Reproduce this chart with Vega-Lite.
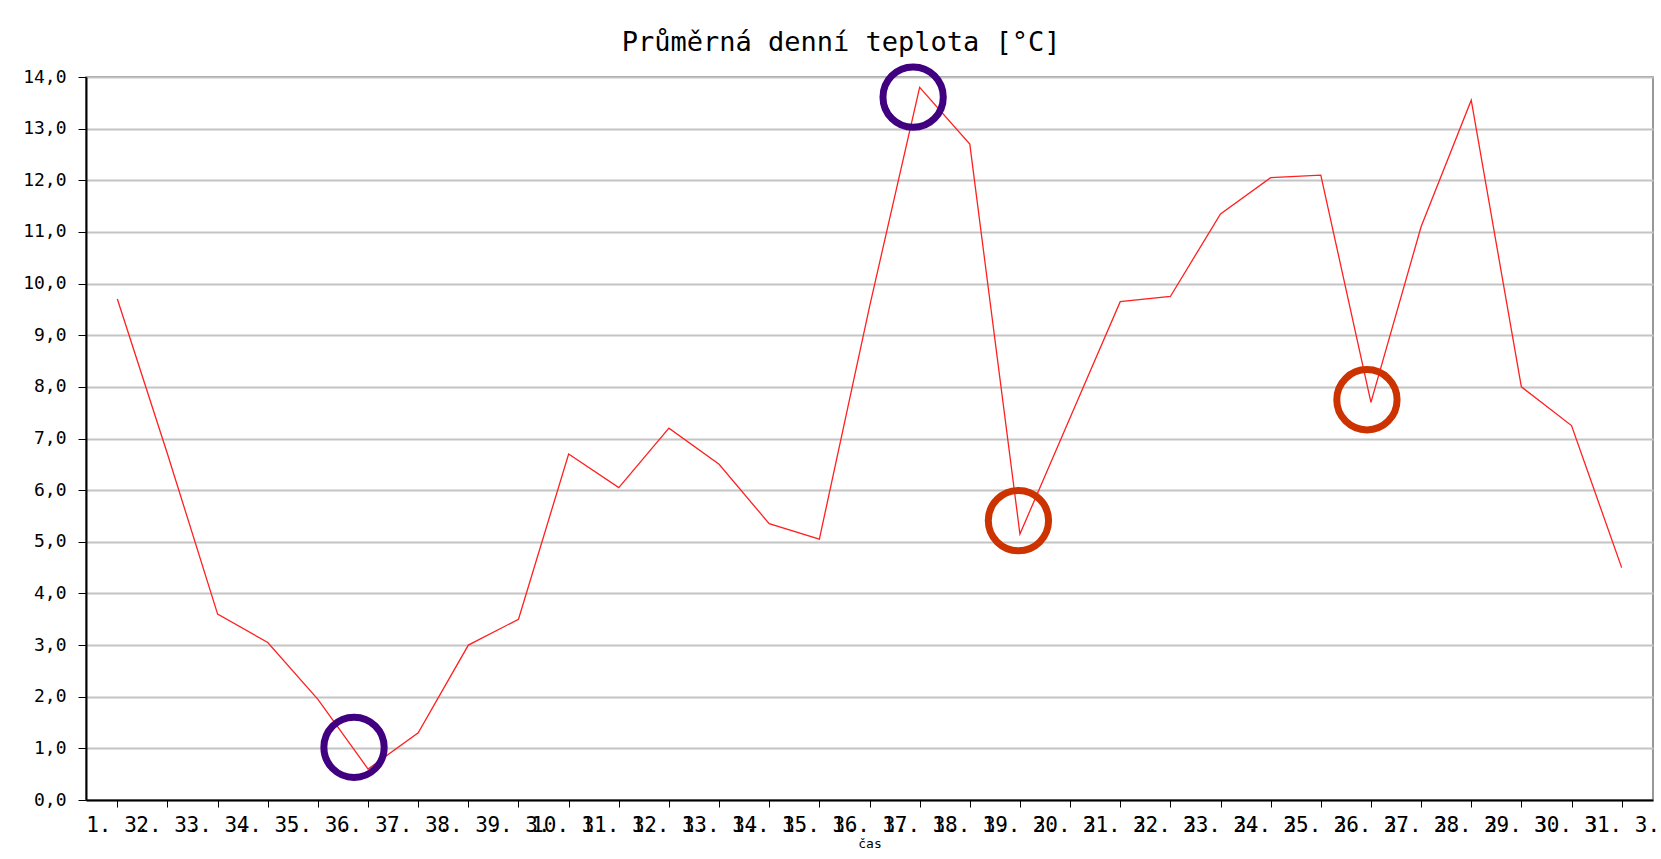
{
  "$schema": "https://vega.github.io/schema/vega-lite/v6.json",
  "width": 1567,
  "height": 723,
  "autosize": {"type": "none"},
  "padding": {"left": 86, "top": 77, "right": 8, "bottom": 59},
  "background": "#ffffff",
  "title": {
    "text": "Průměrná denní teplota [°C]",
    "font": "DejaVu Sans Mono",
    "fontSize": 27,
    "fontWeight": "normal",
    "color": "#000000",
    "anchor": "middle",
    "frame": "bounds",
    "offset": -4
  },
  "config": {
    "view": {"stroke": "#777777", "strokeWidth": 1.5},
    "axis": {"labelFont": "DejaVu Sans Mono", "titleFont": "DejaVu Sans Mono", "labelColor": "#000000", "titleColor": "#000000"}
  },
  "layer": [
    {
      "data": {
        "values": [
          {"den": 1, "teplota": 9.7},
          {"den": 2, "teplota": 6.7},
          {"den": 3, "teplota": 3.6},
          {"den": 4, "teplota": 3.05},
          {"den": 5, "teplota": 1.95},
          {"den": 6, "teplota": 0.6},
          {"den": 7, "teplota": 1.3},
          {"den": 8, "teplota": 3.0},
          {"den": 9, "teplota": 3.5},
          {"den": 10, "teplota": 6.7},
          {"den": 11, "teplota": 6.05},
          {"den": 12, "teplota": 7.2},
          {"den": 13, "teplota": 6.5},
          {"den": 14, "teplota": 5.35},
          {"den": 15, "teplota": 5.05},
          {"den": 16, "teplota": 9.55},
          {"den": 17, "teplota": 13.8},
          {"den": 18, "teplota": 12.7},
          {"den": 19, "teplota": 5.15},
          {"den": 20, "teplota": 7.4},
          {"den": 21, "teplota": 9.65},
          {"den": 22, "teplota": 9.75},
          {"den": 23, "teplota": 11.35},
          {"den": 24, "teplota": 12.05},
          {"den": 25, "teplota": 12.1},
          {"den": 26, "teplota": 7.7},
          {"den": 27, "teplota": 11.1},
          {"den": 28, "teplota": 13.55},
          {"den": 29, "teplota": 8.0},
          {"den": 30, "teplota": 7.25},
          {"den": 31, "teplota": 4.5}
        ]
      },
      "mark": {"type": "line", "color": "#ff2020", "strokeWidth": 1.3},
      "encoding": {
        "x": {
          "field": "den",
          "type": "quantitative",
          "scale": {"domain": [0.375, 31.625], "nice": false, "zero": false},
          "axis": {
            "title": "čas",
            "titleFontSize": 13,
            "titleFontWeight": "normal",
            "titlePadding": 2,
            "values": [1,2,3,4,5,6,7,8,9,10,11,12,13,14,15,16,17,18,19,20,21,22,23,24,25,26,27,28,29,30,31],
            "labelExpr": "datum.value + '. 3.'",
            "labelFontSize": 21,
            "labelOverlap": false,
            "labelFlush": false,
            "labelBound": false,
            "labelPadding": 7,
            "tickSize": 7,
            "tickColor": "#000000",
            "domainColor": "#000000",
            "domainWidth": 2,
            "grid": false
          }
        },
        "y": {
          "field": "teplota",
          "type": "quantitative",
          "scale": {"domain": [0, 14], "nice": false},
          "axis": {
            "title": null,
            "values": [0,1,2,3,4,5,6,7,8,9,10,11,12,13,14],
            "labelExpr": "replace(format(datum.value, '.1f'), '.', ',')",
            "labelFontSize": 18,
            "labelPadding": 12,
            "tickSize": 8,
            "tickColor": "#000000",
            "domainColor": "#000000",
            "domainWidth": 2,
            "grid": true,
            "gridColor": "#c4c4c4",
            "gridWidth": 2
          }
        }
      }
    },
    {
      "data": {
        "values": [
          {"den": 5.72, "teplota": 1.02, "skupina": "min/max"},
          {"den": 16.87, "teplota": 13.61, "skupina": "min/max"},
          {"den": 18.97, "teplota": 5.41, "skupina": "pokles"},
          {"den": 25.92, "teplota": 7.75, "skupina": "pokles"}
        ]
      },
      "mark": {"type": "point", "shape": "circle", "filled": false, "size": 3636, "strokeWidth": 7, "opacity": 1},
      "encoding": {
        "x": {"field": "den", "type": "quantitative"},
        "y": {"field": "teplota", "type": "quantitative"},
        "color": {
          "field": "skupina",
          "type": "nominal",
          "scale": {"domain": ["min/max", "pokles"], "range": ["#400080", "#cc3300"]},
          "legend": null
        }
      }
    }
  ]
}
